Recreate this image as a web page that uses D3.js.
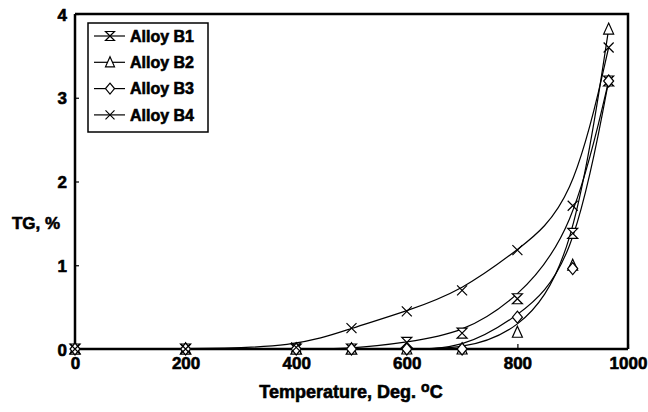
<!DOCTYPE html>
<html>
<head>
<meta charset="utf-8">
<script src="https://cdn.jsdelivr.net/npm/d3@7"></script>
<style>
  body { margin: 0; background: #fff; }
  text { font-family: "Liberation Sans", Arial, sans-serif; font-weight: bold; fill: #000; stroke: #000; stroke-width: 0.6px; }
</style>
</head>
<body>
<div id="chart"></div>
<script>
// Temperatures (Deg. C) and TG (%)
const temps = [0, 200, 400, 500, 600, 700, 800, 900, 965];
const alloyB1 = [0, 0, 0, 0, 0.08, 0.19, 0.6, 1.38, 3.2];
const alloyB2 = [0, 0, 0, 0, 0, 0, 0.2, 1.0, 3.82];
const alloyB3 = [0, 0, 0, 0, 0, 0, 0.38, 0.96, 3.2];
const alloyB4 = [0, 0, 0.02, 0.25, 0.45, 0.7, 1.18, 1.71, 3.6];
const seriesNames = ['Alloy B1', 'Alloy B2', 'Alloy B3', 'Alloy B4'];
const xTicks = [0, 200, 400, 600, 800, 1000];
const yTicks = [0, 1, 2, 3, 4];

const svgWidth = 648;
const svgHeight = 412;

const svg = d3.select('#chart')
    .append('svg')
    .attr('width', svgWidth)
    .attr('height', svgHeight);

const xScale = d3.scaleLinear().domain([0, 1000]).range([75, 628]);
const yScale = d3.scaleLinear().domain([0, 4]).range([349, 14]);

// frame (top and right)
svg.append('path')
    .attr('d', `M${xScale(0)},${yScale(4)}H${xScale(1000)}V${yScale(0)}`)
    .attr('fill', 'none')
    .attr('stroke', '#000')
    .attr('stroke-width', 2.5);

// axes
const xAxis = d3.axisBottom(xScale).tickValues(xTicks).tickSize(-5).tickPadding(8).tickFormat(d3.format('d'));
const yAxis = d3.axisLeft(yScale).tickValues(yTicks).tickSize(-4).tickPadding(8).tickFormat(d3.format('d'));

const gx = svg.append('g')
    .attr('transform', `translate(0,${yScale(0)})`)
    .call(xAxis);
const gy = svg.append('g')
    .attr('transform', `translate(${xScale(0)},0)`)
    .call(yAxis);

[gx, gy].forEach(g => {
    g.select('.domain').attr('stroke-width', 2.5);
    g.selectAll('.tick line').attr('stroke-width', 1.2);
    g.selectAll('.tick text').style('font-size', '17px').attr('font-family', null).attr('fill', null);
});
gx.select('.domain').attr('d', `M${xScale(0)},0H${xScale(1000)}`);
gy.select('.domain').attr('d', `M0,${yScale(0)}V${yScale(4)}`);
gy.selectAll('.tick text').attr('dy', '0.36em');

// axis titles
svg.append('text')
    .attr('x', 36).attr('y', 229)
    .attr('text-anchor', 'middle')
    .style('font-size', '17px')
    .text('TG, %');

const xt = svg.append('text')
    .attr('x', 351).attr('y', 398)
    .attr('text-anchor', 'middle')
    .style('font-size', '18px');
xt.append('tspan').text('Temperature, Deg. ');
xt.append('tspan').attr('dy', -6).style('font-size', '14px').text('o');
xt.append('tspan').attr('dy', 6).text('C');

// marker shapes
function marker(g, kind, s) {
    let d;
    if (kind === 0) d = `M${-s},${-s}H${s}L${-s},${s}H${s}Z`;           // hourglass
    else if (kind === 1) d = `M0,${-s - 1}L${s},${s}H${-s}Z`;            // triangle
    else if (kind === 2) d = `M0,${-s - 1}L${s},0L0,${s + 1}L${-s},0Z`;  // diamond
    else d = `M${-s},${-s}L${s},${s}M${-s},${s}L${s},${-s}`;              // cross
    g.append('path')
        .attr('d', d)
        .attr('fill', kind === 3 ? 'none' : '#fff')
        .attr('stroke', '#000')
        .attr('stroke-width', 1.2);
}

const allSeries = [alloyB1, alloyB2, alloyB3, alloyB4];

const line = d3.line()
    .x((d, i) => xScale(temps[i]))
    .y(d => yScale(d))
    .curve(d3.curveBasis);

allSeries.forEach((vals, k) => {
    svg.append('path')
        .attr('d', line(vals))
        .attr('fill', 'none')
        .attr('stroke', '#000')
        .attr('stroke-width', 1.2);
});

allSeries.forEach((vals, k) => {
    vals.forEach((v, i) => {
        const g = svg.append('g')
            .attr('transform', `translate(${xScale(temps[i])},${yScale(v)})`);
        marker(g, k, 5);
    });
});

// legend
const legend = svg.append('g');
legend.append('rect')
    .attr('x', 88).attr('y', 23)
    .attr('width', 120).attr('height', 109)
    .attr('fill', '#fff')
    .attr('stroke', '#000')
    .attr('stroke-width', 1.5);

seriesNames.forEach((name, k) => {
    const y = 36 + k * 26.3;
    legend.append('line')
        .attr('x1', 94).attr('x2', 125)
        .attr('y1', y).attr('y2', y)
        .attr('stroke', '#000')
        .attr('stroke-width', 1.2);
    marker(legend.append('g').attr('transform', `translate(110,${y})`), k, 4.5);
    legend.append('text')
        .attr('x', 130).attr('y', y)
        .attr('dy', '0.36em')
        .style('font-size', '16px')
        .text(name);
});
</script>
</body>
</html>
